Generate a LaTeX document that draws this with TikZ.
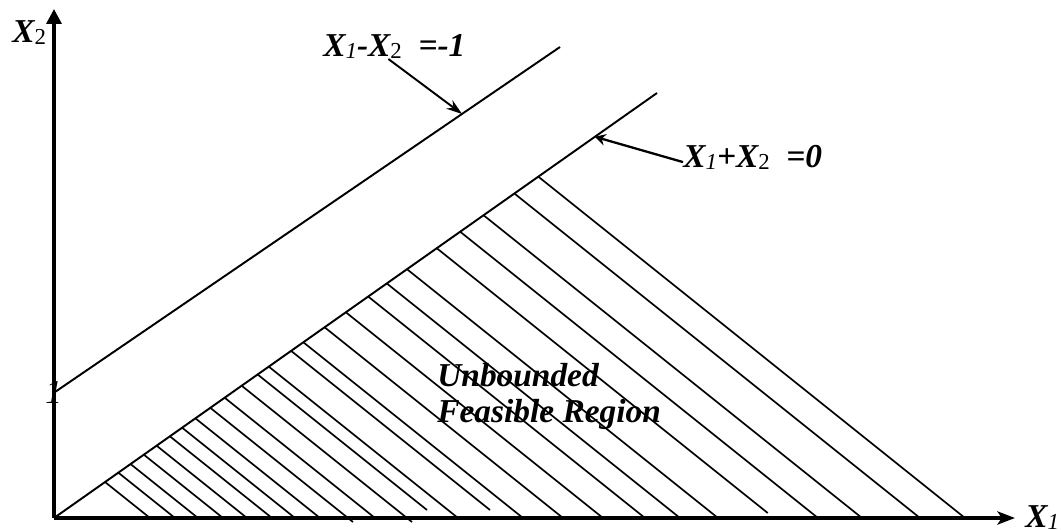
\documentclass[tikz,border=0pt]{standalone}
\usepackage{fontspec}
\setmainfont{Liberation Serif}
\usetikzlibrary{arrows.meta, positioning}
\newcommand\lsub[1]{\raisebox{-1.5pt}{\fontsize{13}{13}\selectfont\mdseries #1}}
\begin{document}
\begin{tikzpicture}[x=0.02cm, y=0.02cm, >=Stealth,
  axis/.style={line width=1.9pt},
  bound/.style={line width=1.1pt},
  hatch/.style={line width=0.95pt},
  lbl/.style={font=\fontsize{19}{20.5}\selectfont\bfseries\itshape, inner sep=0pt, anchor=base west}]
\useasboundingbox (-54,-11) rectangle (1008,518);
% Feasible region hatching
\foreach \a/\d in {96/0,121/0,144/0,169/0,193/0,218/0,241/0,266/0,294/-4,321/0,353/-4,383/8,404/0,446/8,469/0,509/0,549/0,591/0,626/0,664/0,720/5,764/0,808/0,866/0,911/0}
  \draw[hatch] ({0.5315*\a},{0.3748*\a}) -- ({\a-1.25*\d},\d);
% Axes
\coordinate (O) at (0,0);
\coordinate (xtip) at (961,0);
\coordinate (ytip) at (0,509);
\draw[axis, -{Stealth[length=10pt, width=7.5pt, inset=2.5pt]}] (O) -- (xtip);
\draw[axis, -{Triangle[length=8.5pt, width=8.5pt]}] (O) -- (ytip);
% Constraint lines
\coordinate (u0) at (1,126);
\coordinate (u1) at (506,471);
\coordinate (v1) at (603,425);
\draw[bound] (u0) -- coordinate[pos=0.806] (ptA) (u1);
\draw[bound] (O) -- coordinate[pos=0.897] (ptB) (v1);
% Labels
\node[lbl] (x2lbl) at (-42,476) {X\lsub{\upshape 2}};
\node[lbl] (x1lbl) at (971,-9) {X\lsub{1}};
\node[lbl, font=\fontsize{19}{20.5}\selectfont\itshape] (one) at (-9,115) {1};
\node[lbl] (lblA) at (269,462) {X\lsub{1}-X\lsub{\upshape 2}\ \ =-1};
\node[lbl] (lblB) at (629,351) {X\lsub{1}+X\lsub{\upshape 2}\ \ =0};
\node[lbl, anchor=north west, align=left] (region) at (383,155) {Unbounded\\Feasible Region};
% Pointers
\draw[bound, -{Stealth[length=9pt, width=6pt]}] ([xshift=-3.4pt]lblA.south) -- (ptA);
\draw[line width=1.3pt, -{Stealth[length=6pt, width=6.5pt]}] ([yshift=2.8pt]lblB.base west) -- (ptB);
\end{tikzpicture}
\end{document}
